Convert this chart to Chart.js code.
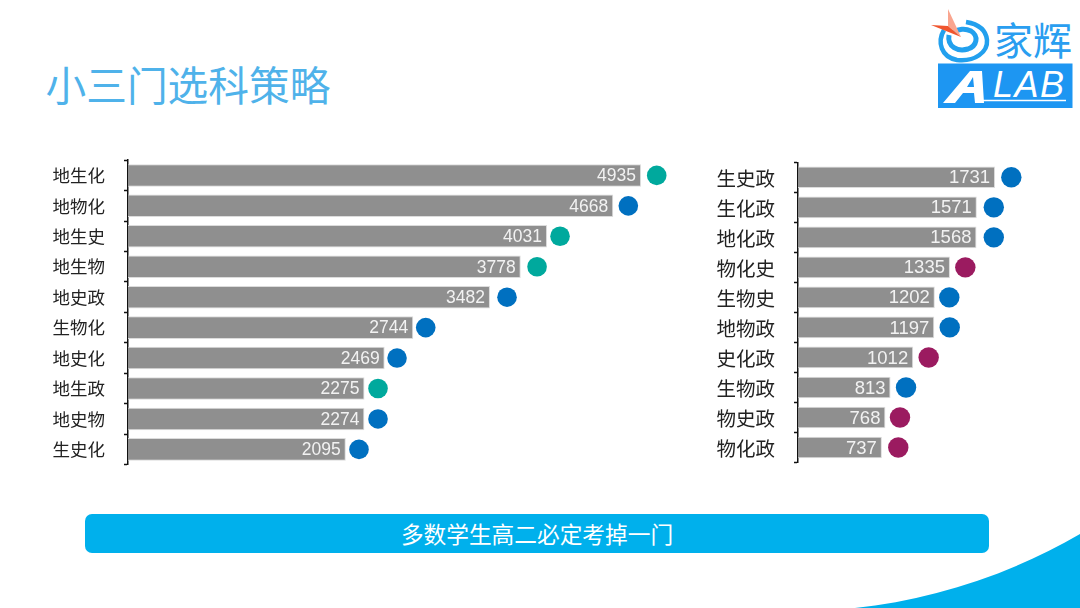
<!DOCTYPE html>
<html lang="zh">
<head>
<meta charset="utf-8">
<script src="https://cdn.jsdelivr.net/npm/chart.js@4"></script>
<style>
html,body{margin:0;padding:0;background:#fff;width:1080px;height:608px;overflow:hidden}
body{position:relative;font-family:"Noto Sans CJK SC","Noto Sans",sans-serif}
#title{position:absolute;left:45.5px;top:54px;font-size:40.7px;line-height:60px;color:#4fb2ea;white-space:nowrap}
#banner{position:absolute;left:85px;top:514px;width:904px;height:39px;border-radius:7px;background:#00b0ec;color:#fff;font-size:22.7px;line-height:39px;text-align:center}
canvas{position:absolute}
#left{left:40px;top:150px}
#right{left:700px;top:150px}
svg{position:absolute;left:0;top:0}
</style>
</head>
<body>
<svg width="1080" height="608" viewBox="0 0 1080 608">
  <path d="M855 608 C930 600 1010 575 1080 534 L1080 608 Z" fill="#00b0ec"/>
  <!-- logo -->
  <rect x="938" y="63.5" width="134.5" height="44.5" fill="#1d96f2"/>
  <path d="M943 103 L970 71 L982 71 L984 103 L975 103 L974 93 L963 93 L955 103 Z M967 87 L974 87 L973 77 Z" fill="#fff" fill-rule="evenodd"/>
  <text x="993" y="97" font-family="Liberation Sans" font-style="italic" font-size="36" fill="#fff" textLength="71" lengthAdjust="spacing">LAB</text>
  <path d="M975 100.5 L1066 100.5" stroke="#fff" stroke-width="1.5"/>
  <path d="M944 30 C937 42 941 57 957 60 C975 62 988 52 987 40 C986 30 978 24 966 22" fill="none" stroke="#22a0ee" stroke-width="4.5"/>
  <path d="M949 35 C947 47 958 52 968 49 C977 46 979 36 971 31 C965 28 958 29 955 32" fill="none" stroke="#22a0ee" stroke-width="5"/>
  <path d="M948 9 L961 37 L948 26 Z" fill="#f9a58f"/>
  <path d="M931 25 L961 37 L948 26 Z" fill="#f0552e"/>
  <text x="994" y="55" font-family="Noto Sans CJK SC" font-size="39" fill="#2a9ef0">家辉</text>
</svg>
<div id="title">小三门选科策略</div>
<canvas id="left" width="640" height="330"></canvas>
<canvas id="right" width="340" height="330"></canvas>
<div id="banner">多数学生高二必定考掉一门</div>
<script>
const leftCategories = ["地生化","地物化","地生史","地生物","地史政","生物化","地史化","地生政","地史物","生史化"];
const leftValues = [4935,4668,4031,3778,3482,2744,2469,2275,2274,2095];
const leftDotPositions = [5086,4813,4156,3935,3646,2864,2588,2405,2405,2222];
const leftDotColors = ["#00a99d","#0070c0","#00a99d","#00a99d","#0070c0","#0070c0","#0070c0","#00a99d","#0070c0","#0070c0"];
const rightCategories = ["生史政","生化政","地化政","物化史","生物史","地物政","史化政","生物政","物史政","物化政"];
const rightValues = [1731,1571,1568,1335,1202,1197,1012,813,768,737];
const rightDotPositions = [1874,1720,1720,1470,1329,1333,1148,949,896,881];
const rightDotColors = ["#0070c0","#0070c0","#0070c0","#9b1b60","#0070c0","#0070c0","#9b1b60","#0070c0","#9b1b60","#9b1b60"];

const valueLabels = {
  id: "valueLabels",
  afterDatasetsDraw(chart, args, opts) {
    const ctx = chart.ctx;
    const meta = chart.getDatasetMeta(0);
    ctx.save();
    ctx.font = opts.size + 'px "Liberation Sans"';
    ctx.fillStyle = "#f2f2f2";
    ctx.textAlign = "right";
    ctx.textBaseline = "middle";
    meta.data.forEach((bar, i) => {
      ctx.fillText(String(chart.data.datasets[0].data[i]), bar.x - 5, bar.y + 1);
    });
    ctx.restore();
  }
};

function makeChart(id, cfg) {
  const el = document.getElementById(id);
  return new Chart(el, {
    data: {
      labels: cfg.categories,
      datasets: [
        {
          type: "bar",
          data: cfg.values,
          backgroundColor: "#8f8f8f",
          borderColor: "#dcdcdc",
          borderWidth: 1,
          categoryPercentage: 1,
          barPercentage: cfg.barPct,
          order: 2
        },
        {
          type: "line",
          data: cfg.dots,
          showLine: false,
          pointRadius: cfg.dotR,
          pointHoverRadius: cfg.dotR,
          pointBackgroundColor: cfg.colors,
          pointBorderColor: cfg.colors,
          pointBorderWidth: 0,
          order: 1
        }
      ]
    },
    options: {
      indexAxis: "y",
      responsive: false,
      animation: false,
      devicePixelRatio: 1,
      layout: { autoPadding: false, padding: { top: cfg.padTop, bottom: cfg.padBottom, left: 0, right: 0 } },
      plugins: { legend: { display: false }, tooltip: { enabled: false }, valueLabels: { size: cfg.numSize } },
      scales: {
        x: { display: false, min: 0, max: cfg.max, grid: { display: false } },
        y: {
          type: "category",
          offset: true,
          afterFit(s) { s.width = cfg.axisW; s.paddingTop = 0; s.paddingBottom = 0; },
          border: { display: true, color: "#111", width: 1.5 },
          grid: { offset: true, drawOnChartArea: false, drawTicks: true, tickLength: 4, color: "#111", tickWidth: 1.5 },
          ticks: { padding: cfg.labelPad, labelOffset: cfg.labelShift, color: "#222", font: { family: '"Noto Sans CJK SC"', size: cfg.catSize }, autoSkip: false }
        }
      }
    },
    plugins: [valueLabels]
  });
}

makeChart("left", { categories: leftCategories, values: leftValues, dots: leftDotPositions, colors: leftDotColors,
  axisW: 88, max: 5310, dotR: 9.8, padTop: 10.2, padBottom: 15.4, barPct: 0.74, labelPad: 19, labelShift: 0, catSize: 17.5, numSize: 17.5 });
makeChart("right", { categories: rightCategories, values: rightValues, dots: rightDotPositions, colors: rightDotColors,
  axisW: 98, max: 2126, dotR: 10.2, padTop: 12.3, padBottom: 17.5, barPct: 0.72, labelPad: 19, labelShift: 1.5, catSize: 19.5, numSize: 18.5 });
</script>
</body>
</html>
